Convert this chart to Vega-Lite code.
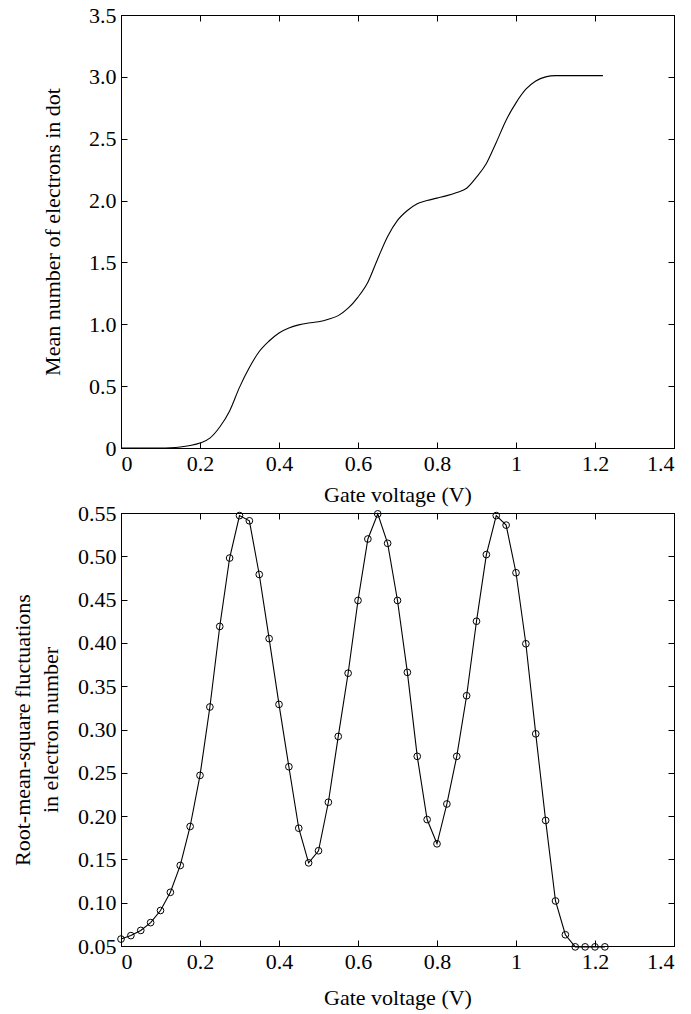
{
  "$schema": "https://vega.github.io/schema/vega-lite/v6.json",
  "background": "white",
  "padding": {"left": 11, "top": 3, "right": 10, "bottom": 3},
  "spacing": -5,
  "config": {
    "font": "Liberation Serif",
    "view": {"stroke": "black", "strokeWidth": 1},
    "axis": {
      "labelFont": "Liberation Serif",
      "titleFont": "Liberation Serif",
      "labelFontSize": 22,
      "titleFontSize": 22,
      "titleFontWeight": "normal",
      "labelColor": "black",
      "titleColor": "black",
      "domainColor": "black",
      "tickColor": "black",
      "tickSize": -6,
      "labelPadding": 11,
      "grid": false
    }
  },
  "datasets": {
    "mean": [
      {"v": 0, "n": 0}, {"v": 0.025, "n": 0}, {"v": 0.05, "n": 0}, {"v": 0.075, "n": 0}, {"v": 0.1, "n": 0},
      {"v": 0.125, "n": 0.002}, {"v": 0.15, "n": 0.008}, {"v": 0.175, "n": 0.02}, {"v": 0.2, "n": 0.04},
      {"v": 0.225, "n": 0.08}, {"v": 0.25, "n": 0.17}, {"v": 0.275, "n": 0.3}, {"v": 0.3, "n": 0.49},
      {"v": 0.325, "n": 0.65}, {"v": 0.35, "n": 0.78}, {"v": 0.375, "n": 0.865}, {"v": 0.4, "n": 0.93},
      {"v": 0.425, "n": 0.97}, {"v": 0.45, "n": 0.995}, {"v": 0.475, "n": 1.01}, {"v": 0.5, "n": 1.02},
      {"v": 0.525, "n": 1.04}, {"v": 0.55, "n": 1.07}, {"v": 0.575, "n": 1.13}, {"v": 0.6, "n": 1.22},
      {"v": 0.625, "n": 1.34}, {"v": 0.65, "n": 1.53}, {"v": 0.675, "n": 1.71}, {"v": 0.7, "n": 1.84},
      {"v": 0.725, "n": 1.92}, {"v": 0.75, "n": 1.975}, {"v": 0.775, "n": 2.0}, {"v": 0.8, "n": 2.02},
      {"v": 0.825, "n": 2.04}, {"v": 0.85, "n": 2.065}, {"v": 0.875, "n": 2.1}, {"v": 0.9, "n": 2.19},
      {"v": 0.925, "n": 2.3}, {"v": 0.95, "n": 2.47}, {"v": 0.975, "n": 2.65}, {"v": 1.0, "n": 2.79},
      {"v": 1.025, "n": 2.9}, {"v": 1.05, "n": 2.967}, {"v": 1.075, "n": 3.0}, {"v": 1.1, "n": 3.01},
      {"v": 1.125, "n": 3.01}, {"v": 1.15, "n": 3.01}, {"v": 1.175, "n": 3.01}, {"v": 1.2, "n": 3.01},
      {"v": 1.22, "n": 3.01}
    ],
    "rms": [
      {"v": 0, "r": 0.058}, {"v": 0.025, "r": 0.062}, {"v": 0.05, "r": 0.068}, {"v": 0.075, "r": 0.077},
      {"v": 0.1, "r": 0.091}, {"v": 0.125, "r": 0.112}, {"v": 0.15, "r": 0.143}, {"v": 0.175, "r": 0.188},
      {"v": 0.2, "r": 0.247}, {"v": 0.225, "r": 0.326}, {"v": 0.25, "r": 0.419}, {"v": 0.275, "r": 0.498},
      {"v": 0.3, "r": 0.547}, {"v": 0.325, "r": 0.541}, {"v": 0.35, "r": 0.479}, {"v": 0.375, "r": 0.405},
      {"v": 0.4, "r": 0.329}, {"v": 0.425, "r": 0.257}, {"v": 0.45, "r": 0.186}, {"v": 0.475, "r": 0.146},
      {"v": 0.5, "r": 0.16}, {"v": 0.525, "r": 0.216}, {"v": 0.55, "r": 0.292}, {"v": 0.575, "r": 0.365},
      {"v": 0.6, "r": 0.449}, {"v": 0.625, "r": 0.52}, {"v": 0.65, "r": 0.549}, {"v": 0.675, "r": 0.515},
      {"v": 0.7, "r": 0.449}, {"v": 0.725, "r": 0.366}, {"v": 0.75, "r": 0.269}, {"v": 0.775, "r": 0.196},
      {"v": 0.8, "r": 0.168}, {"v": 0.825, "r": 0.214}, {"v": 0.85, "r": 0.269}, {"v": 0.875, "r": 0.339},
      {"v": 0.9, "r": 0.425}, {"v": 0.925, "r": 0.502}, {"v": 0.95, "r": 0.547}, {"v": 0.975, "r": 0.536},
      {"v": 1.0, "r": 0.481}, {"v": 1.025, "r": 0.399}, {"v": 1.05, "r": 0.295}, {"v": 1.075, "r": 0.195},
      {"v": 1.1, "r": 0.102}, {"v": 1.125, "r": 0.063}, {"v": 1.15, "r": 0.049}, {"v": 1.175, "r": 0.049},
      {"v": 1.2, "r": 0.049}, {"v": 1.225, "r": 0.049}
    ]
  },
  "vconcat": [
    {
      "width": 553,
      "height": 433,
      "data": {"name": "mean"},
      "layer": [
        {
          "mark": {"type": "line", "color": "black", "strokeWidth": 1.1, "interpolate": "monotone"},
          "encoding": {
            "x": {"field": "v", "type": "quantitative",
              "scale": {"domain": [0, 1.4], "nice": false, "zero": false},
              "axis": {"title": "Gate voltage (V)", "values": [0, 0.2, 0.4, 0.6, 0.8, 1, 1.2, 1.4], "format": "~g", "titlePadding": 10}},
            "y": {"field": "n", "type": "quantitative",
              "scale": {"domain": [0, 3.5], "nice": false, "zero": false},
              "axis": {"title": "Mean number of electrons in dot", "values": [0, 0.5, 1, 1.5, 2, 2.5, 3, 3.5],
                "labelExpr": "datum.value == 0 ? '0' : format(datum.value, '.1f')", "titlePadding": 24}}
          }
        },
        {
          "mark": {"type": "line", "opacity": 0},
          "encoding": {
            "x": {"field": "v", "type": "quantitative",
              "axis": {"orient": "top", "labels": false, "title": null, "values": [0, 0.2, 0.4, 0.6, 0.8, 1, 1.2, 1.4]}},
            "y": {"field": "n", "type": "quantitative",
              "axis": {"orient": "right", "labels": false, "title": null, "values": [0, 0.5, 1, 1.5, 2, 2.5, 3, 3.5]}}
          }
        }
      ],
      "resolve": {"axis": {"x": "independent", "y": "independent"}}
    },
    {
      "width": 553,
      "height": 433,
      "data": {"name": "rms"},
      "layer": [
        {
          "mark": {"type": "line", "color": "black", "strokeWidth": 1.1},
          "encoding": {
            "x": {"field": "v", "type": "quantitative",
              "scale": {"domain": [0, 1.4], "nice": false, "zero": false},
              "axis": {"title": "Gate voltage (V)", "values": [0, 0.2, 0.4, 0.6, 0.8, 1, 1.2, 1.4], "format": "~g", "titlePadding": 15}},
            "y": {"field": "r", "type": "quantitative",
              "scale": {"domain": [0.05, 0.55], "nice": false, "zero": false},
              "axis": {"title": ["Root-mean-square fluctuations", "in electron number"],
                "values": [0.05, 0.1, 0.15, 0.2, 0.25, 0.3, 0.35, 0.4, 0.45, 0.5, 0.55],
                "format": ".2f", "titlePadding": 15, "titleLineHeight": 28}}
          }
        },
        {
          "mark": {"type": "line", "opacity": 0},
          "encoding": {
            "x": {"field": "v", "type": "quantitative",
              "axis": {"orient": "top", "labels": false, "title": null, "values": [0, 0.2, 0.4, 0.6, 0.8, 1, 1.2, 1.4]}},
            "y": {"field": "r", "type": "quantitative",
              "axis": {"orient": "right", "labels": false, "title": null, "values": [0.05, 0.1, 0.15, 0.2, 0.25, 0.3, 0.35, 0.4, 0.45, 0.5, 0.55]}}
          }
        },
        {
          "mark": {"type": "point", "shape": "circle", "filled": false, "color": "black", "size": 45, "strokeWidth": 1, "opacity": 1},
          "encoding": {
            "x": {"field": "v", "type": "quantitative", "axis": null},
            "y": {"field": "r", "type": "quantitative", "axis": null}
          }
        }
      ],
      "resolve": {"axis": {"x": "independent", "y": "independent"}}
    }
  ]
}
